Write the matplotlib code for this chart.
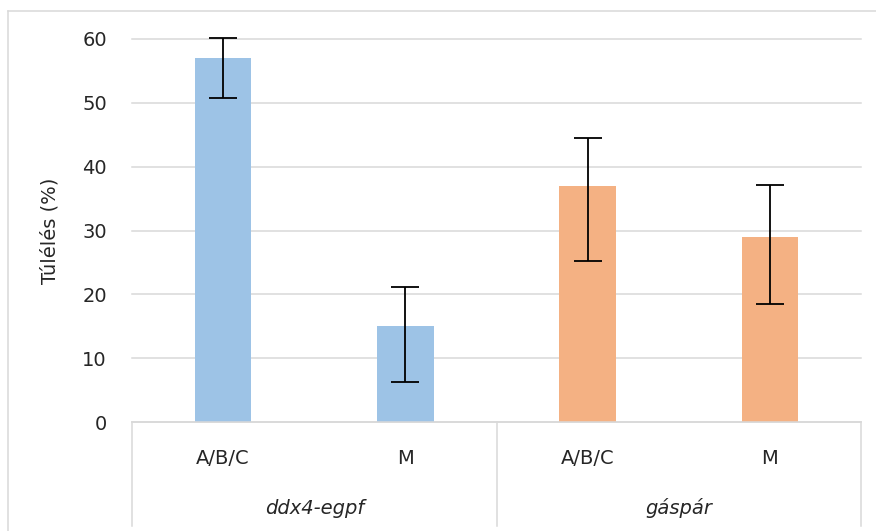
import numpy as np
from matplotlib import pyplot as plt
from matplotlib.lines import Line2D
import matplotlib.transforms as mtransforms

# adatok
groups = ['ddx4-egpf', 'gáspár']
subcats = ['A/B/C', 'M', 'A/B/C', 'M']
values = [57, 15, 37, 29]
err_low = [6.2, 8.8, 11.7, 10.5]
err_high = [3.2, 6.1, 7.5, 8.1]
colors = ['#9DC3E6', '#9DC3E6', '#F4B183', '#F4B183']

W, H = 876, 531
fs = 14
fig = plt.figure(figsize=(W / 100, H / 100), dpi=100)
ax = fig.add_axes([132 / W, (H - 422) / H, (861 - 132) / W, (422 - 39) / H])

x = np.arange(len(values)) + 0.5
ax.bar(x, values, width=0.31, color=colors, zorder=2)
eb = ax.errorbar(x, values, yerr=[err_low, err_high], fmt='none', ecolor='black',
                 elinewidth=1.3, capsize=10, capthick=1.3, zorder=3)
for a in eb.lines[1] + eb.lines[2]:
    a.set_clip_on(False)

ax.set_xlim(0, 4)
ax.set_ylim(0, 60)
ax.set_yticks(range(0, 61, 10))
ax.yaxis.grid(True, color='#D9D9D9', linewidth=1.1, zorder=0)
for gl in ax.get_ygridlines():
    gl.set_clip_on(False)
ax.set_axisbelow(True)
for s in ['top', 'right', 'left']:
    ax.spines[s].set_visible(False)
ax.spines['bottom'].set_color('#D9D9D9')
ax.spines['bottom'].set_linewidth(1.1)
ax.tick_params(axis='y', length=0, pad=18, labelsize=fs, labelcolor='#262626')
ax.set_xticks([])
ax.set_ylabel('Túlélés (%)', fontsize=fs, color='#262626')
ax.yaxis.set_label_coords(-0.1, 0.5)

# kategória tengely
trans = mtransforms.blended_transform_factory(ax.transData, ax.transAxes)
for xi, lab in zip(x, subcats):
    ax.text(xi, -0.094, lab, transform=trans, ha='center', va='center',
            fontsize=fs, color='#262626')
for gi, g in enumerate(groups):
    ax.text(1 + 2 * gi, -0.225, g, transform=trans, ha='center', va='center',
            fontsize=fs, style='italic', color='#262626')
for xs in [0, 2, 4]:
    ax.plot([xs, xs], [0, -0.272], transform=trans, color='#D9D9D9',
            linewidth=1.1, clip_on=False)

# külső keret
fig.add_artist(Line2D([8 / W, 8 / W], [0, (H - 11) / H], color='#D9D9D9', linewidth=1.1))
fig.add_artist(Line2D([8 / W, 1], [(H - 11) / H, (H - 11) / H], color='#D9D9D9', linewidth=1.1))

fig.savefig('out.png', dpi=100)
plt.close()
